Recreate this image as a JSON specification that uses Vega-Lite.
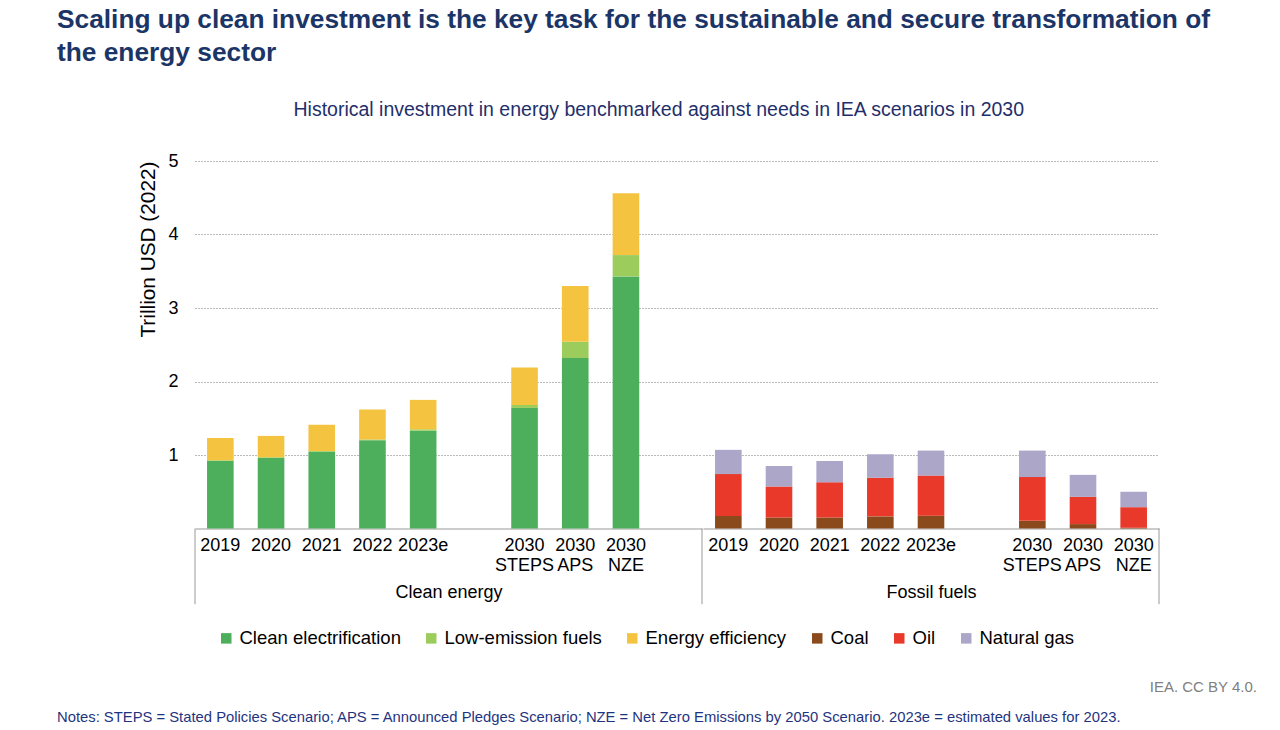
{
  "$schema": "https://vega.github.io/schema/vega-lite/v6.json",
  "padding": {"left": 56, "top": 6, "right": 5, "bottom": 5},
  "background": "white",
  "config": {
    "font": "Liberation Sans",
    "view": {"stroke": null},
    "concat": {"spacing": 0}
  },
  "datasets": {
    "clean": [
      {"cat": "2019", "type": "Clean electrification", "value": 0.92},
      {"cat": "2019", "type": "Low-emission fuels", "value": 0.01},
      {"cat": "2019", "type": "Energy efficiency", "value": 0.30},
      {"cat": "2020", "type": "Clean electrification", "value": 0.96},
      {"cat": "2020", "type": "Low-emission fuels", "value": 0.01},
      {"cat": "2020", "type": "Energy efficiency", "value": 0.29},
      {"cat": "2021", "type": "Clean electrification", "value": 1.045},
      {"cat": "2021", "type": "Low-emission fuels", "value": 0.01},
      {"cat": "2021", "type": "Energy efficiency", "value": 0.355},
      {"cat": "2022", "type": "Clean electrification", "value": 1.20},
      {"cat": "2022", "type": "Low-emission fuels", "value": 0.01},
      {"cat": "2022", "type": "Energy efficiency", "value": 0.41},
      {"cat": "2023e", "type": "Clean electrification", "value": 1.33},
      {"cat": "2023e", "type": "Low-emission fuels", "value": 0.02},
      {"cat": "2023e", "type": "Energy efficiency", "value": 0.40},
      {"cat": "2030 STEPS", "type": "Clean electrification", "value": 1.64},
      {"cat": "2030 STEPS", "type": "Low-emission fuels", "value": 0.04},
      {"cat": "2030 STEPS", "type": "Energy efficiency", "value": 0.51},
      {"cat": "2030 APS", "type": "Clean electrification", "value": 2.32},
      {"cat": "2030 APS", "type": "Low-emission fuels", "value": 0.22},
      {"cat": "2030 APS", "type": "Energy efficiency", "value": 0.76},
      {"cat": "2030 NZE", "type": "Clean electrification", "value": 3.43},
      {"cat": "2030 NZE", "type": "Low-emission fuels", "value": 0.29},
      {"cat": "2030 NZE", "type": "Energy efficiency", "value": 0.84}
    ],
    "fossil": [
      {"cat": "2019", "type": "Coal", "value": 0.17},
      {"cat": "2019", "type": "Oil", "value": 0.57},
      {"cat": "2019", "type": "Natural gas", "value": 0.33},
      {"cat": "2020", "type": "Coal", "value": 0.15},
      {"cat": "2020", "type": "Oil", "value": 0.42},
      {"cat": "2020", "type": "Natural gas", "value": 0.28},
      {"cat": "2021", "type": "Coal", "value": 0.15},
      {"cat": "2021", "type": "Oil", "value": 0.48},
      {"cat": "2021", "type": "Natural gas", "value": 0.29},
      {"cat": "2022", "type": "Coal", "value": 0.165},
      {"cat": "2022", "type": "Oil", "value": 0.525},
      {"cat": "2022", "type": "Natural gas", "value": 0.32},
      {"cat": "2023e", "type": "Coal", "value": 0.175},
      {"cat": "2023e", "type": "Oil", "value": 0.545},
      {"cat": "2023e", "type": "Natural gas", "value": 0.34},
      {"cat": "2030 STEPS", "type": "Coal", "value": 0.105},
      {"cat": "2030 STEPS", "type": "Oil", "value": 0.595},
      {"cat": "2030 STEPS", "type": "Natural gas", "value": 0.36},
      {"cat": "2030 APS", "type": "Coal", "value": 0.06},
      {"cat": "2030 APS", "type": "Oil", "value": 0.37},
      {"cat": "2030 APS", "type": "Natural gas", "value": 0.30},
      {"cat": "2030 NZE", "type": "Coal", "value": 0.01},
      {"cat": "2030 NZE", "type": "Oil", "value": 0.28},
      {"cat": "2030 NZE", "type": "Natural gas", "value": 0.21}
    ]
  },
  "title": {"text": "Notes: STEPS = Stated Policies Scenario; APS = Announced Pledges Scenario; NZE = Net Zero Emissions by 2050 Scenario. 2023e = estimated values for 2023.", "orient": "bottom", "anchor": "start", "fontSize": 14.8, "fontWeight": "normal", "color": "#1f3480", "offset": 15},
  "resolve": {"scale": {"color": "independent"}},
  "vconcat": [{
    "title": {"text": "IEA. CC BY 4.0.", "orient": "bottom", "anchor": "end", "fontSize": 15, "fontWeight": "normal", "color": "#808080", "offset": 10, "dx": 47},
    "resolve": {"scale": {"color": "independent"}},
    "vconcat": [{
      "title": {"text": ["Scaling up clean investment is the key task for the sustainable and secure transformation of", "the energy sector"], "anchor": "start", "fontSize": 26.3, "fontWeight": "bold", "color": "#1c3567", "lineHeight": 33, "dx": -81, "offset": 33.5},
      "resolve": {"scale": {"color": "independent"}},
      "vconcat": [{
        "title": {"text": "Historical investment in energy benchmarked against needs in IEA scenarios in 2030", "anchor": "middle", "fontSize": 19.5, "fontWeight": "normal", "color": "#1f2f6b", "offset": 32, "dx": 10},
        "resolve": {"scale": {"x": "independent", "y": "independent", "color": "shared"}},
        "hconcat": [
          {
            "width": 507,
            "height": 367.5,
            "layer": [
              {
                "data": {"name": "clean"},
                "transform": [{"calculate": "indexof(['Clean electrification','Low-emission fuels','Energy efficiency','Coal','Oil','Natural gas'], datum.type)", "as": "ord"}],
                "mark": {"type": "bar", "width": {"band": 0.525}},
                "encoding": {
                  "x": {"field": "cat", "type": "nominal", "sort": null,
                    "scale": {"domain": ["2019", "2020", "2021", "2022", "2023e", "s1", "2030 STEPS", "2030 APS", "2030 NZE", "s2"], "paddingInner": 0, "paddingOuter": 0},
                    "axis": {"title": "Clean energy", "titleFontSize": 18, "titleFontWeight": "normal", "titleColor": "#000", "titlePadding": 9, "labelExpr": "test(/^s/, datum.value) ? '' : split(datum.value, ' ')", "labelAngle": 0, "ticks": false, "domainColor": "#999", "labelFontSize": 18, "labelColor": "#000", "labelPadding": 8, "labelLineHeight": 20, "labelOverlap": false, "labelBound": false}},
                  "y": {"field": "value", "type": "quantitative", "stack": "zero",
                    "scale": {"domain": [0, 5], "nice": false},
                    "axis": {"title": "Trillion USD (2022)", "titleFontSize": 20.8, "titleFontWeight": "normal", "titleColor": "#000", "titlePadding": 9, "titleAnchor": "end", "values": [1, 2, 3, 4, 5], "format": "d", "domain": false, "ticks": false, "labelFontSize": 18, "labelColor": "#000", "labelPadding": 17, "grid": true, "gridColor": "#777", "gridDash": [1, 2]}},
                  "color": {"field": "type", "type": "nominal",
                    "scale": {"domain": ["Clean electrification", "Low-emission fuels", "Energy efficiency", "Coal", "Oil", "Natural gas"], "range": ["#4dae5b", "#9ccc5c", "#f4c340", "#8b4a1c", "#e8392a", "#aca6c8"]},
                    "legend": {"orient": "bottom", "direction": "horizontal", "title": null, "symbolType": "square", "symbolSize": 110, "symbolStrokeWidth": 0, "labelFontSize": 18.5, "labelColor": "#000", "labelLimit": 0, "columnPadding": 21, "labelOffset": 4, "padding": 22, "offset": 2}},
                  "order": {"field": "ord", "type": "quantitative", "sort": "ascending"}
                }
              },
              {
                "data": {"values": [{}]},
                "mark": {"type": "rule", "color": "#999", "strokeWidth": 1},
                "encoding": {"x": {"datum": "2019", "type": "nominal", "bandPosition": 0}, "y": {"datum": 0, "type": "quantitative"}, "y2": {"datum": -1.03}}
              },
              {
                "data": {"values": [{}]},
                "mark": {"type": "rule", "color": "#999", "strokeWidth": 1},
                "encoding": {"x": {"datum": "s2", "type": "nominal", "bandPosition": 1}, "y": {"datum": 0, "type": "quantitative"}, "y2": {"datum": -1.03}}
              }
            ]
          },
          {
            "width": 456,
            "height": 367.5,
            "layer": [
              {
                "data": {"name": "fossil"},
                "transform": [{"calculate": "indexof(['Clean electrification','Low-emission fuels','Energy efficiency','Coal','Oil','Natural gas'], datum.type)", "as": "ord"}],
                "mark": {"type": "bar", "width": {"band": 0.525}},
                "encoding": {
                  "x": {"field": "cat", "type": "nominal", "sort": null,
                    "scale": {"domain": ["2019", "2020", "2021", "2022", "2023e", "s1", "2030 STEPS", "2030 APS", "2030 NZE"], "paddingInner": 0, "paddingOuter": 0},
                    "axis": {"title": "Fossil fuels", "titleFontSize": 18, "titleFontWeight": "normal", "titleColor": "#000", "titlePadding": 9, "labelExpr": "test(/^s/, datum.value) ? '' : split(datum.value, ' ')", "labelAngle": 0, "ticks": false, "domainColor": "#999", "labelFontSize": 18, "labelColor": "#000", "labelPadding": 8, "labelLineHeight": 20, "labelOverlap": false, "labelBound": false}},
                  "y": {"field": "value", "type": "quantitative", "stack": "zero",
                    "scale": {"domain": [0, 5], "nice": false},
                    "axis": {"title": null, "values": [1, 2, 3, 4, 5], "domain": false, "ticks": false, "labels": false, "grid": true, "gridColor": "#777", "gridDash": [1, 2]}},
                  "color": {"field": "type", "type": "nominal",
                    "scale": {"domain": ["Clean electrification", "Low-emission fuels", "Energy efficiency", "Coal", "Oil", "Natural gas"], "range": ["#4dae5b", "#9ccc5c", "#f4c340", "#8b4a1c", "#e8392a", "#aca6c8"]},
                    "legend": {"orient": "bottom", "direction": "horizontal", "title": null, "symbolType": "square", "symbolSize": 110, "symbolStrokeWidth": 0, "labelFontSize": 18.5, "labelColor": "#000", "labelLimit": 0, "columnPadding": 21, "labelOffset": 4, "padding": 22, "offset": 2}},
                  "order": {"field": "ord", "type": "quantitative", "sort": "ascending"}
                }
              },
              {
                "data": {"values": [{}]},
                "mark": {"type": "rule", "color": "#999", "strokeWidth": 1},
                "encoding": {"x": {"datum": "2030 NZE", "type": "nominal", "bandPosition": 1}, "y": {"datum": 0, "type": "quantitative"}, "y2": {"datum": -1.03}}
              }
            ]
          }
        ]
      }]
    }]
  }]
}
